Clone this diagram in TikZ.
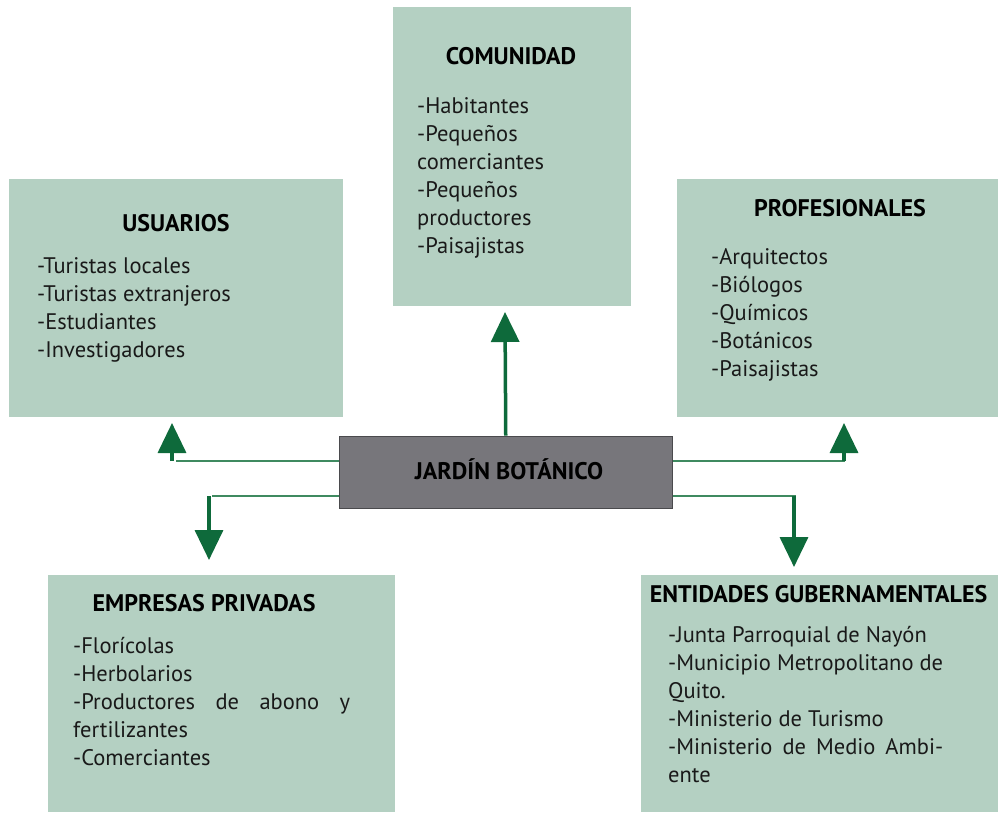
\documentclass[tikz,border=0pt]{standalone}
\usepackage{fontspec}
\setmainfont{PT Sans}
\usetikzlibrary{arrows.meta}
\definecolor{boxfill}{HTML}{B4D0C2}
\definecolor{centerfill}{HTML}{77767B}
\definecolor{centerdraw}{HTML}{4A4A4D}
\definecolor{arrowgreen}{HTML}{0E6A3B}
\definecolor{linegreen}{HTML}{3F8A60}
\begin{document}
\begin{tikzpicture}[x=1pt,y=-1pt,
  box/.style={fill=boxfill, draw=none, anchor=north west, inner sep=0pt},
  titletxt/.style={font=\fontsize{24}{28}\selectfont\bfseries, text=black, inner sep=0pt, anchor=base},
  listtxt/.style={font=\fontsize{22.5}{28}\selectfont, text=black!90, inner sep=0pt, align=left, anchor=north west},
  thinline/.style={draw=linegreen, line width=1.6pt},
  bigarrow/.style={draw=arrowgreen, line width=3.5pt, -{Triangle[length=30pt,width=28pt]}}
]
\useasboundingbox (0,0) rectangle (998,812);
% boxes
\node[box, minimum width=334pt, minimum height=238pt] (usuarios) at (9,179) {};
\node[box, minimum width=238pt, minimum height=299pt] (comunidad) at (393,7) {};
\node[box, minimum width=321pt, minimum height=238pt] (profesionales) at (677,179) {};
\node[box, minimum width=347pt, minimum height=237pt] (empresas) at (48,575) {};
\node[box, minimum width=357pt, minimum height=237pt] (entidades) at (641,575) {};
\node[fill=centerfill, draw=centerdraw, line width=1.5pt, minimum width=333pt, minimum height=72pt, anchor=north west, inner sep=0pt] (jardin) at (338.5,435.5) {};
\node[titletxt] (jardinT) at (509,479) {JARDÍN BOTÁNICO};
% titles
\node[titletxt] (usuariosT) at (176,231) {USUARIOS};
\node[titletxt] (comunidadT) at (511,64) {COMUNIDAD};
\node[titletxt] (profesionalesT) at (840,216) {PROFESIONALES};
\node[titletxt] (empresasT) at (204,611) {EMPRESAS PRIVADAS};
\node[titletxt] (entidadesT) at (818.5,602) {ENTIDADES GUBERNAMENTALES};
% lists
\node[listtxt] (usuariosL) at (37,257) {-Turistas locales\\-Turistas extranjeros\\-Estudiantes\\-Investigadores};
\node[listtxt] (comunidadL) at (417,97) {-Habitantes\\-Pequeños\\comerciantes\\-Pequeños\\productores\\-Paisajistas};
\node[listtxt] (profesionalesL) at (711,248) {-Arquitectos\\-Biólogos\\-Químicos\\-Botánicos\\-Paisajistas};
\node[listtxt] (empresasL) at (73,637) {-Florícolas\\-Herbolarios\\\makebox[277pt][s]{-Productores de abono y}\\fertilizantes\\-Comerciantes};
\node[listtxt] (entidadesL) at (668,626) {-Junta Parroquial de Nayón\\-Municipio Metropolitano de\\Quito.\\-Ministerio de Turismo\\\makebox[275pt][s]{-Ministerio de Medio Ambi-}\\ente};
% connectors
\coordinate (upTip) at (505,312);
\coordinate (luEnd) at (176,461);
\coordinate (luTip) at (172,423);
\coordinate (llEnd) at (212,496);
\coordinate (llTip) at (209,560);
\coordinate (ruEnd) at (845,461);
\coordinate (ruTip) at (844,423);
\coordinate (rlEnd) at (796,496);
\coordinate (rlTip) at (794,567);
\draw[bigarrow] (jardin.north) -- (upTip);
\draw[thinline] (jardin.west |- luEnd) -- (luEnd);
\draw[bigarrow] (luTip |- luEnd) -- (luTip);
\draw[thinline] (jardin.west |- llEnd) -- (llEnd);
\draw[bigarrow] (llTip |- llEnd) -- (llTip);
\draw[thinline] (jardin.east |- ruEnd) -- (ruEnd);
\draw[bigarrow] (ruTip |- ruEnd) -- (ruTip);
\draw[thinline] (jardin.east |- rlEnd) -- (rlEnd);
\draw[bigarrow] (rlTip |- rlEnd) -- (rlTip);
\end{tikzpicture}
\end{document}
